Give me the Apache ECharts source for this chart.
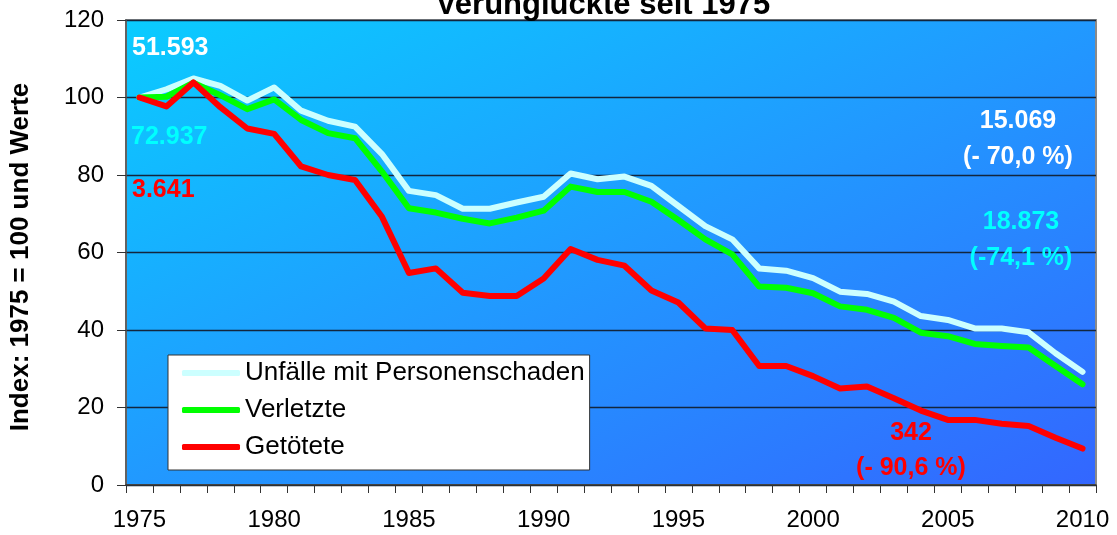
<!DOCTYPE html>
<html>
<head>
<meta charset="utf-8">
<script src="https://cdn.jsdelivr.net/npm/echarts@6/dist/echarts.min.js"></script>
<style>
html, body { margin: 0; padding: 0; background: #fff; }
#chart { width: 1117px; height: 535px; }
</style>
</head>
<body>
<div id="chart"></div>
<script>
// Jahre 1975-2010, Index 1975 = 100
const years = ['1975', '1976', '1977', '1978', '1979', '1980', '1981', '1982', '1983', '1984',
	'1985', '1986', '1987', '1988', '1989', '1990', '1991', '1992', '1993', '1994',
	'1995', '1996', '1997', '1998', '1999', '2000', '2001', '2002', '2003', '2004',
	'2005', '2006', '2007', '2008', '2009', '2010'];

const unfaelle = [100, 102.1, 104.9, 103.0, 99.2, 102.6, 96.6, 94.0, 92.5, 85.4,
	75.9, 74.8, 71.3, 71.3, 72.9, 74.4, 80.4, 78.9, 79.6, 77.2,
	72.0, 66.8, 63.4, 55.9, 55.3, 53.4, 49.9, 49.3, 47.3, 43.6,
	42.6, 40.4, 40.4, 39.4, 34.0, 29.2];

const verletzte = [100, 100.2, 103.8, 100.6, 97.0, 99.5, 94.2, 90.8, 89.5, 80.9,
	71.4, 70.3, 68.7, 67.5, 69.0, 70.8, 77.0, 75.6, 75.6, 73.1,
	68.4, 63.4, 59.5, 51.2, 50.9, 49.5, 46.1, 45.2, 43.1, 39.3,
	38.4, 36.4, 35.9, 35.5, 30.7, 26.0];

const getoetete = [100, 97.7, 103.9, 97.5, 92.0, 90.6, 82.2, 80.0, 78.7, 69.2,
	54.7, 55.9, 49.6, 48.8, 48.8, 53.3, 60.9, 58.1, 56.6, 50.2,
	47.1, 40.4, 40.0, 30.7, 30.7, 28.1, 24.9, 25.4, 22.4, 19.2,
	16.8, 16.8, 15.8, 15.2, 12.2, 9.4];

const seriesNames = ['Unfälle mit Personenschaden', 'Verletzte', 'Getötete'];
const startWerte = ['51.593', '72.937', '3.641'];
const endWerte = ['15.069', '18.873', '342'];
const endProzent = ['(- 70,0 %)', '(-74,1 %)', '(- 90,6 %)'];

const FONT = '"Liberation Sans", Arial, sans-serif';

function note(text, x, y, color, align) {
	return {
		type: 'text',
		x: x,
		y: y,
		z: 100,
		style: {
			text: text,
			fill: color,
			font: 'bold 25px ' + FONT,
			textAlign: align,
			align: align,
			textVerticalAlign: 'middle',
			verticalAlign: 'middle'
		}
	};
}

const chart = echarts.init(document.getElementById('chart'), null, { renderer: 'canvas' });

const lineSeries = function (name, data, color) {
	return {
		name: name,
		type: 'line',
		data: data,
		symbol: 'none',
		smooth: false,
		color: color,
		itemStyle: { color: color },
		lineStyle: { color: color, width: 6, cap: 'round', join: 'round' },
		emphasis: { disabled: true }
	};
};

chart.setOption({
	animation: false,
	grid: {
		left: 126,
		top: 20,
		width: 970,
		height: 465,
		show: true,
		borderColor: '#8a8a8a',
		borderWidth: 2,
		backgroundColor: new echarts.graphic.LinearGradient(0.313, -0.313, 0.687, 1.313, [
			{ offset: 0, color: '#0ACCFF' },
			{ offset: 0.5, color: '#2199FF' },
			{ offset: 1, color: '#3366FF' }
		])
	},
	legend: {
		orient: 'vertical',
		left: 168,
		top: 355,
		backgroundColor: '#ffffff',
		borderColor: '#333333',
		borderWidth: 1,
		borderRadius: 0,
		padding: [5, 5, 10, 14],
		itemGap: 11,
		itemWidth: 58,
		itemHeight: 6,
		icon: 'roundRect',
		selectedMode: false,
		textStyle: { fontSize: 26, lineHeight: 26, color: '#000', fontFamily: FONT },
		data: seriesNames
	},
	xAxis: {
		type: 'category',
		data: years,
		boundaryGap: true,
		axisLine: { show: true, lineStyle: { color: '#333', width: 1.5 } },
		axisTick: { show: true, interval: 0, length: 8, lineStyle: { color: '#333', width: 1 } },
		axisLabel: { interval: 4, margin: 23, fontSize: 24, color: '#000', fontFamily: FONT },
		splitLine: { show: false }
	},
	yAxis: {
		type: 'value',
		min: 0,
		max: 120,
		interval: 20,
		axisLine: { show: true, lineStyle: { color: '#555', width: 1.5 } },
		axisTick: { show: true, length: 9, lineStyle: { color: '#333', width: 1 } },
		axisLabel: { margin: 22, fontSize: 24, color: '#000', fontFamily: FONT },
		splitLine: { show: true, lineStyle: { color: '#13263d', width: 1.3 } }
	},
	series: [
		lineSeries(seriesNames[0], unfaelle, '#CCFFFF'),
		lineSeries(seriesNames[1], verletzte, '#00FF00'),
		lineSeries(seriesNames[2], getoetete, '#FF0000')
	],
	graphic: [
		{
			type: 'text',
			x: 603,
			y: 5,
			z: 100,
			style: {
				text: 'Verunglückte seit 1975',
				fill: '#000',
				font: 'bold 31px ' + FONT,
				textAlign: 'center', align: 'center',
				textVerticalAlign: 'middle', verticalAlign: 'middle'
			}
		},
		{
			type: 'text',
			x: 21,
			y: 257,
			z: 100,
			rotation: Math.PI / 2,
			style: {
				text: 'Index: 1975 = 100 und Werte',
				fill: '#000',
				font: 'bold 26px ' + FONT,
				textAlign: 'center', align: 'center',
				textVerticalAlign: 'middle', verticalAlign: 'middle'
			}
		},
		note(startWerte[0], 132, 48, '#FFFFFF', 'left'),
		note(startWerte[1], 131, 137, '#00FFFF', 'left'),
		note(startWerte[2], 132, 190, '#FF0000', 'left'),
		note(endWerte[0], 1018, 121, '#FFFFFF', 'center'),
		note(endProzent[0], 1018, 157, '#FFFFFF', 'center'),
		note(endWerte[1], 1021, 222, '#00FFFF', 'center'),
		note(endProzent[1], 1021, 258, '#00FFFF', 'center'),
		note(endWerte[2], 911, 433, '#FF0000', 'center'),
		note(endProzent[2], 911, 468, '#FF0000', 'center')
	]
});
</script>
</body>
</html>
